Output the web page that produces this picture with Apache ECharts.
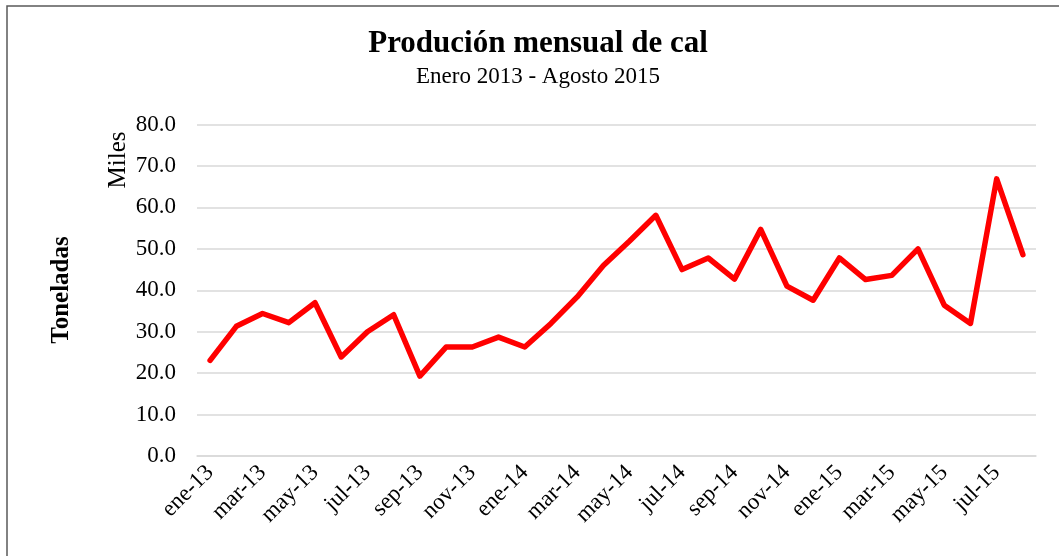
<!DOCTYPE html>
<html>
<head>
<meta charset="utf-8">
<script src="https://cdn.jsdelivr.net/npm/echarts@6/dist/echarts.min.js"></script>
<style>
  html, body { margin: 0; padding: 0; background: #fff; }
  #chart { width: 1059px; height: 556px; }
</style>
</head>
<body>
<div id="chart"></div>
<script>
// meses ene-13 .. ago-15
var meses = ["ene-13", "feb-13", "mar-13", "abr-13", "may-13", "jun-13", "jul-13", "ago-13",
    "sep-13", "oct-13", "nov-13", "dic-13", "ene-14", "feb-14", "mar-14", "abr-14",
    "may-14", "jun-14", "jul-14", "ago-14", "sep-14", "oct-14", "nov-14", "dic-14",
    "ene-15", "feb-15", "mar-15", "abr-15", "may-15", "jun-15", "jul-15", "ago-15"];

// miles de toneladas
var produccion = [23.1, 31.3, 34.4, 32.2, 37.0, 23.9, 30.0, 34.1,
    19.3, 26.3, 26.3, 28.7, 26.3, 32.0, 38.4, 46.0,
    51.9, 58.1, 45.0, 47.8, 42.7, 54.7, 41.0, 37.6,
    47.8, 42.6, 43.6, 50.0, 36.4, 32.0, 66.9, 48.6];

var titulo = "Produción mensual de cal";
var subtitulo = "Enero 2013 - Agosto 2015";

var fuente = "'Liberation Serif', 'DejaVu Serif', serif";

var chart = echarts.init(document.getElementById("chart"));

var option = {
    backgroundColor: "#fff",
    animation: false,
    graphic: [
        {
            type: "rect",
            shape: {x: 7, y: 6, width: 1100, height: 600},
            style: {fill: "none", stroke: "#595959", lineWidth: 1.5},
            silent: true
        },
        {
            type: "text",
            x: 538, y: 28,
            style: {text: titulo, font: "bold 31px " + fuente, fill: "#000", textAlign: "center"}
        },
        {
            type: "text",
            x: 538, y: 65,
            style: {text: subtitulo, font: "23px " + fuente, fill: "#000", textAlign: "center"}
        },
        {
            type: "text",
            x: 118, y: 160, rotation: Math.PI / 2,
            style: {text: "Miles", font: "25px " + fuente, fill: "#000", textAlign: "center", textVerticalAlign: "middle"}
        },
        {
            type: "text",
            x: 62, y: 290, rotation: Math.PI / 2,
            style: {text: "Toneladas", font: "bold 25px " + fuente, fill: "#000", textAlign: "center", textVerticalAlign: "middle"}
        }
    ],
    grid: {left: 197, right: 23, top: 124.6, bottom: 100},
    xAxis: {
        type: "category",
        data: meses,
        boundaryGap: true,
        axisLine: {lineStyle: {color: "#d9d9d9", width: 1.5}},
        axisTick: {interval: 1, length: 7, lineStyle: {color: "#d9d9d9", width: 1.5}},
        axisLabel: {
            interval: 1,
            rotate: 45,
            margin: 13,
            color: "#000",
            fontFamily: fuente,
            fontSize: 23
        },
        splitLine: {show: false}
    },
    yAxis: {
        type: "value",
        min: 0,
        max: 80,
        interval: 10,
        axisLine: {show: false},
        axisTick: {show: false},
        axisLabel: {
            color: "#000",
            fontFamily: fuente,
            fontSize: 23,
            margin: 21,
            formatter: function (v) { return v.toFixed(1); }
        },
        splitLine: {lineStyle: {color: "#d9d9d9", width: 1.5}}
    },
    series: [{
        type: "line",
        data: produccion,
        symbol: "none",
        lineStyle: {color: "#ff0000", width: 5.5, cap: "round", join: "round"}
    }]
};
chart.setOption(option);
</script>
</body>
</html>
